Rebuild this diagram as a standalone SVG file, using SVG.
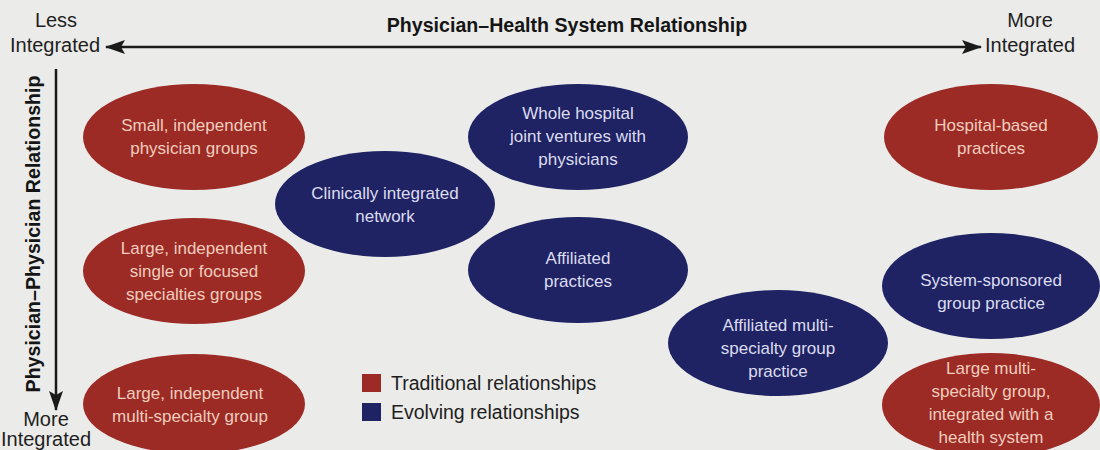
<svg xmlns="http://www.w3.org/2000/svg" width="1100" height="450" viewBox="0 0 1100 450">
  <defs>
    <marker id="arrow" viewBox="0 0 20 14" refX="19" refY="7" markerWidth="20" markerHeight="14" markerUnits="userSpaceOnUse" orient="auto-start-reverse">
      <path d="M0,0 L20,7 L0,14 L4,7 z" fill="#1a1a1a"/>
    </marker>
  </defs>
  <style>
    .bg { fill: #ebebe9; }
    .trad { fill: #9c2a25; }
    .evol { fill: #1f2363; }
    .tt { font-family: "Liberation Sans", Arial, sans-serif; font-size: 17px; text-anchor: middle; fill: #f0cdbd; }
    .et { font-family: "Liberation Sans", Arial, sans-serif; font-size: 17px; text-anchor: middle; fill: #dcdcf0; }
    .axis { font-family: "Liberation Sans", Arial, sans-serif; font-size: 20px; text-anchor: middle; fill: #1e1e1e; }
    .title { font-family: "Liberation Sans", Arial, sans-serif; font-size: 19.6px; font-weight: bold; text-anchor: middle; fill: #151515; }
    .legend { font-family: "Liberation Sans", Arial, sans-serif; font-size: 19.5px; fill: #1e1e1e; }
    .axisline { stroke: #1a1a1a; stroke-width: 2.5; fill: none; }
  </style>
  <rect class="bg" x="0" y="0" width="1100" height="450"/>

  <g id="connectors">
    <line class="axisline" x1="106" y1="47" x2="981" y2="47" marker-start="url(#arrow)" marker-end="url(#arrow)"/>
    <line class="axisline" x1="56" y1="69" x2="56" y2="410" marker-end="url(#arrow)"/>
  </g>

  <g id="axis-labels">
    <text class="title" x="567" y="32">Physician–Health System Relationship</text>
    <text class="title" transform="translate(40,234) rotate(-90)" x="0" y="0">Physician–Physician Relationship</text>
    <text class="axis" x="56" y="27">Less</text>
    <text class="axis" x="55" y="52">Integrated</text>
    <text class="axis" x="1030" y="27">More</text>
    <text class="axis" x="1030" y="52">Integrated</text>
    <text class="axis" x="46" y="426">More</text>
    <text class="axis" x="46" y="446">Integrated</text>
  </g>

  <g id="node-small-independent">
    <ellipse class="trad" cx="194" cy="137" rx="111" ry="53"/>
    <text class="tt" x="194" y="131">Small, independent</text>
    <text class="tt" x="194" y="154">physician groups</text>
  </g>

  <g id="node-large-single">
    <ellipse class="trad" cx="194" cy="271" rx="111" ry="53"/>
    <text class="tt" x="194" y="254">Large, independent</text>
    <text class="tt" x="194" y="277">single or focused</text>
    <text class="tt" x="194" y="300">specialties groups</text>
  </g>

  <g id="node-large-multi-independent">
    <ellipse class="trad" cx="194" cy="404" rx="111" ry="50"/>
    <text class="tt" x="190" y="399">Large, independent</text>
    <text class="tt" x="190" y="422">multi-specialty group</text>
  </g>

  <g id="node-clinically-integrated">
    <ellipse class="evol" cx="385" cy="204" rx="110" ry="53"/>
    <text class="et" x="385" y="199">Clinically integrated</text>
    <text class="et" x="385" y="222">network</text>
  </g>

  <g id="node-whole-hospital">
    <ellipse class="evol" cx="578" cy="137" rx="110" ry="53"/>
    <text class="et" x="578" y="119">Whole hospital</text>
    <text class="et" x="578" y="142">joint ventures with</text>
    <text class="et" x="578" y="165">physicians</text>
  </g>

  <g id="node-affiliated-practices">
    <ellipse class="evol" cx="578" cy="270" rx="110" ry="53"/>
    <text class="et" x="578" y="264">Affiliated</text>
    <text class="et" x="578" y="287">practices</text>
  </g>

  <g id="node-affiliated-multi">
    <ellipse class="evol" cx="778" cy="343" rx="110" ry="53"/>
    <text class="et" x="778" y="331">Affiliated multi-</text>
    <text class="et" x="778" y="354">specialty group</text>
    <text class="et" x="778" y="377">practice</text>
  </g>

  <g id="node-hospital-based">
    <ellipse class="trad" cx="991" cy="137" rx="107" ry="53"/>
    <text class="tt" x="991" y="131">Hospital-based</text>
    <text class="tt" x="991" y="154">practices</text>
  </g>

  <g id="node-system-sponsored">
    <ellipse class="evol" cx="991" cy="286" rx="109" ry="53"/>
    <text class="et" x="991" y="286">System-sponsored</text>
    <text class="et" x="991" y="309">group practice</text>
  </g>

  <g id="node-large-multi-integrated">
    <ellipse class="trad" cx="991" cy="405" rx="109" ry="52"/>
    <text class="tt" x="991" y="374">Large multi-</text>
    <text class="tt" x="991" y="397">specialty group,</text>
    <text class="tt" x="991" y="420">integrated with a</text>
    <text class="tt" x="991" y="443">health system</text>
  </g>

  <g id="legend">
    <rect class="trad" x="362" y="374" width="19" height="18"/>
    <text class="legend" x="391" y="390">Traditional relationships</text>
    <rect class="evol" x="362" y="403" width="19" height="18"/>
    <text class="legend" x="391" y="419">Evolving relationships</text>
  </g>
</svg>
